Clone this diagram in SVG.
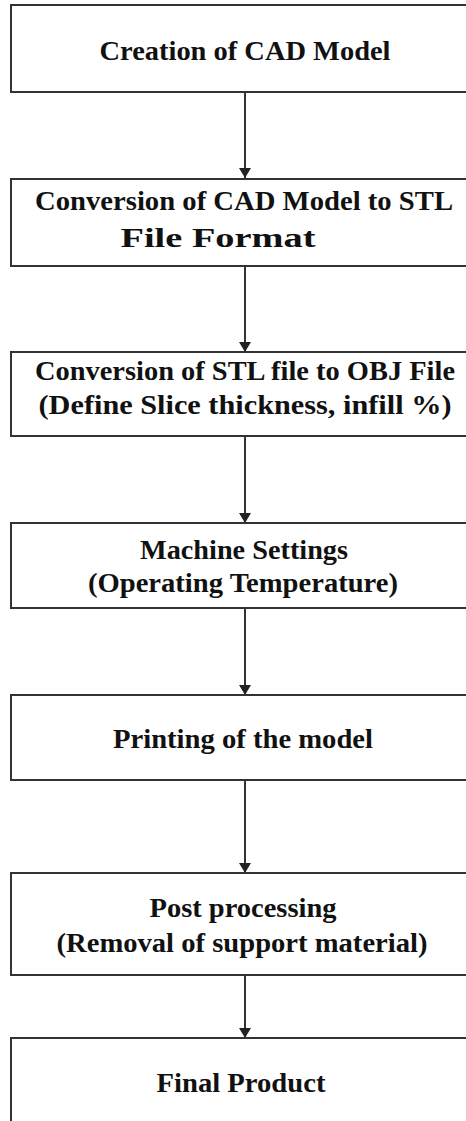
<svg xmlns="http://www.w3.org/2000/svg" width="466" height="1121" viewBox="0 0 466 1121">
<style>
.box{fill:#fff;stroke:#333;stroke-width:2}
.t{font-family:"Liberation Serif","Times New Roman",serif;font-weight:bold;font-size:28px;fill:#111;text-anchor:middle}
.c{stroke:#333;stroke-width:2;fill:none;marker-end:url(#ah)}
</style>
<defs>
<marker id="ah" viewBox="0 0 10 12" refX="10" refY="6" markerWidth="10" markerHeight="12" markerUnits="userSpaceOnUse" orient="auto">
<path d="M0,0 L10,6 L0,12 z" fill="#222"/>
</marker>
</defs>
<rect width="466" height="1121" fill="#fff"/>
<g id="connectors">
<line class="c" x1="245" y1="93" x2="245" y2="178"/>
<line class="c" x1="245" y1="267" x2="245" y2="352"/>
<line class="c" x1="245" y1="437" x2="245" y2="523"/>
<line class="c" x1="245" y1="609" x2="245" y2="695"/>
<line class="c" x1="245" y1="781" x2="245" y2="873"/>
<line class="c" x1="245" y1="976" x2="245" y2="1038"/>
</g>
<g id="n1">
<rect class="box" x="11" y="5" width="470" height="87"/>
<text class="t" x="245" y="60" textLength="291" lengthAdjust="spacingAndGlyphs">Creation of CAD Model</text>
</g>
<g id="n2">
<rect class="box" x="11" y="179" width="470" height="87"/>
<text class="t" x="244" y="210" textLength="418" lengthAdjust="spacingAndGlyphs">Conversion of CAD Model to STL</text>
<text class="t" x="218" y="247" textLength="195" lengthAdjust="spacingAndGlyphs">File Format</text>
</g>
<g id="n3">
<rect class="box" x="11" y="352" width="470" height="84"/>
<text class="t" x="245" y="380" textLength="420" lengthAdjust="spacingAndGlyphs">Conversion of STL file to OBJ File</text>
<text class="t" x="245" y="414" textLength="413" lengthAdjust="spacingAndGlyphs">(Define Slice thickness, infill %)</text>
</g>
<g id="n4">
<rect class="box" x="11" y="523" width="470" height="85"/>
<text class="t" x="244" y="559" textLength="208" lengthAdjust="spacingAndGlyphs">Machine Settings</text>
<text class="t" x="243" y="592" textLength="310" lengthAdjust="spacingAndGlyphs">(Operating Temperature)</text>
</g>
<g id="n5">
<rect class="box" x="11" y="695" width="470" height="85"/>
<text class="t" x="243" y="748" textLength="260" lengthAdjust="spacingAndGlyphs">Printing of the model</text>
</g>
<g id="n6">
<rect class="box" x="11" y="873" width="470" height="102"/>
<text class="t" x="243" y="917" textLength="187" lengthAdjust="spacingAndGlyphs">Post processing</text>
<text class="t" x="242" y="952" textLength="371" lengthAdjust="spacingAndGlyphs">(Removal of support material)</text>
</g>
<g id="n7">
<rect class="box" x="11" y="1038" width="470" height="100"/>
<text class="t" x="241" y="1092" textLength="169" lengthAdjust="spacingAndGlyphs">Final Product</text>
</g>
</svg>
